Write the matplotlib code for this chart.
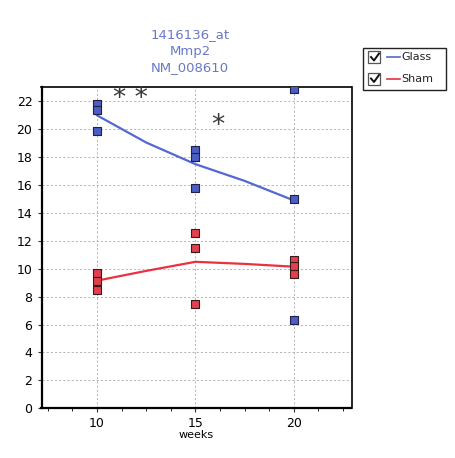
import matplotlib
matplotlib.use("Agg")
import matplotlib.pyplot as plt
from matplotlib.patches import Rectangle
from matplotlib.lines import Line2D
from matplotlib.ticker import MultipleLocator

# data
weeks = [10, 10, 10, 15, 15, 15, 20, 20, 20]
glass = [21.8, 21.4, 19.9, 18.5, 18.0, 15.8, 22.9, 15.0, 6.35]
sham = [9.7, 9.15, 8.45, 12.6, 11.5, 7.45, 10.6, 10.2, 9.65]

fit_x = [10, 12.5, 15, 17.5, 20]
glass_fit = [21.0, 19.05, 17.5, 16.3, 14.9]
sham_fit = [9.15, 9.85, 10.5, 10.35, 10.15]

title_lines = ["1416136_at", "Mmp2", "NM_008610"]
legend_names = ["Glass", "Sham"]

blue = "#4c5ec4"
red = "#e2404e"
line_blue = "#5468d2"
line_red = "#e8323f"

W, H = 456, 458
fig = plt.figure(figsize=(W / 100, H / 100), dpi=100)
ax = fig.add_axes([41.5 / W, 1 - 408.3 / H, (351.5 - 41.5) / W, (408.3 - 87) / H])

ax.plot(fit_x, glass_fit, color=line_blue, lw=1.6, zorder=3)
ax.plot(fit_x, sham_fit, color=line_red, lw=1.6, zorder=3)
ax.scatter(weeks, glass, marker="s", s=32, color=blue, edgecolor="#20204a", lw=0.8, zorder=4)
ax.scatter(weeks, sham, marker="s", s=32, color=red, edgecolor="#3a1a1a", lw=0.8, zorder=4)

ax.text(11.68, 22.15, "* *", fontsize=19, color="#3a3a3a", ha="center", va="center")
ax.text(16.14, 20.25, "*", fontsize=19, color="#3a3a3a", ha="center", va="center")

ax.set_xlim(7.18, 22.93)
ax.set_ylim(0, 23.03)
ax.set_xticks([10, 15, 20])
ax.xaxis.set_minor_locator(MultipleLocator(1.25))
ax.set_yticks(range(0, 23, 2))
ax.tick_params(axis="both", labelsize=9, direction="out", length=3, width=0.8, color="#333333")
ax.tick_params(axis="x", which="minor", length=2, width=0.6)
ax.grid(True, color="#a8a8a8", ls=(0, (2.5, 2.5)), lw=0.6)
for side in ["left", "bottom"]:
    ax.spines[side].set_linewidth(1.6)
for side in ["top", "right"]:
    ax.spines[side].set_linewidth(1.2)
ax.set_xlabel("weeks", fontsize=8, labelpad=0)

for i, t in enumerate(title_lines):
    fig.text(190 / W, 1 - (35 + i * 16.5) / H, t, fontsize=9.5, color="#6a78c8", ha="center", va="center")

# legend box with checkboxes
def fx(x):
    return x / W

def fy(y):
    return 1 - y / H

fig.add_artist(Rectangle((fx(363.5), fy(90)), fx(446.5) - fx(363.5), fy(48.5) - fy(90),
                         transform=fig.transFigure, fill=False, ec="#222222", lw=1.0))
for i, (name, col) in enumerate(zip(legend_names, [line_blue, line_red])):
    yc = 57 + i * 21.5
    fig.add_artist(Rectangle((fx(368.5), fy(yc + 6)), fx(380.5) - fx(368.5), fy(yc - 6) - fy(yc + 6),
                             transform=fig.transFigure, fill=False, ec="#555555", lw=0.9))
    fig.add_artist(Line2D([fx(371), fx(374), fx(379)], [fy(yc), fy(yc + 3.5), fy(yc - 3.5)],
                          transform=fig.transFigure, color="#111111", lw=1.4))
    fig.add_artist(Line2D([fx(387), fx(400)], [fy(yc), fy(yc)], transform=fig.transFigure, color=col, lw=1.2))
    fig.text(fx(401), fy(yc), name, fontsize=8, color="#222222", ha="left", va="center")

fig.savefig("out.png", dpi=100)
